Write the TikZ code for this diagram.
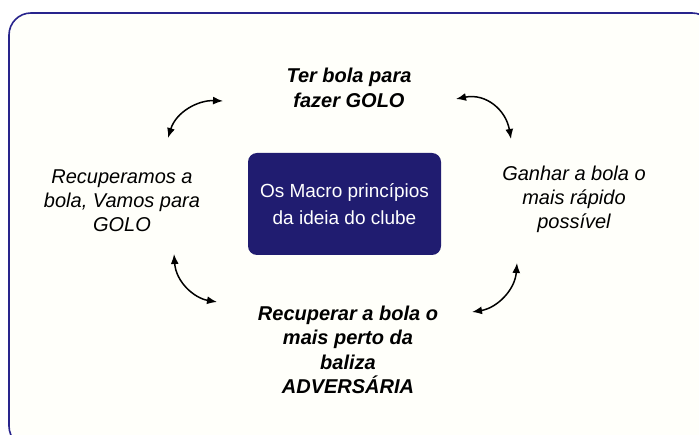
\documentclass[tikz,border=0pt]{standalone}
\usepackage{fontspec}
\setmainfont{Liberation Sans}
\usetikzlibrary{arrows.meta}
\definecolor{framecol}{RGB}{40,36,140}
\definecolor{boxcol}{RGB}{32,28,112}
\definecolor{papercol}{RGB}{255,255,250}
\tikzset{
  frame/.style={draw=framecol,line width=1.6pt,fill=papercol,rounded corners=22pt},
  macrobox/.style={fill=boxcol,rounded corners=9pt,minimum width=193pt,minimum height=102pt,
    align=center,text=white,font=\fontsize{19}{27}\selectfont},
  goalbold/.style={align=center,font=\fontsize{20}{24.5}\selectfont\bfseries\itshape},
  goalplain/.style={align=center,font=\fontsize{20}{24}\selectfont\itshape},
  cycle/.style={{Latex[length=10pt,width=8pt]}-{Latex[length=10pt,width=8pt]},line width=1.5pt}
}
\begin{document}
\begin{tikzpicture}[x=1pt,y=-1pt]
  \useasboundingbox (0,0) rectangle (699,435);
  \begin{scope}
    \clip (0,0) rectangle (699,435);
    \draw[frame] (9,13) rectangle (714,448);
  \end{scope}

  \node[macrobox] (macro) at (344.5,204) {Os Macro princípios\\da ideia do clube};

  \node[goalbold] (ter) at (349,88) {Ter bola para\\fazer GOLO};
  \node[goalplain] (ganhar) at (574,199) {Ganhar a bola o\\mais rápido\\possível};
  \node[goalbold] (recuperar) at (348,350) {Recuperar a bola o\\mais perto da\\baliza\\ADVERSÁRIA};
  \node[goalplain] (vamos) at (122,201) {Recuperamos a\\bola, Vamos para\\GOLO};

  % arrow ends
  \coordinate (tl1) at (168,138);
  \coordinate (tl2) at (223,101);
  \coordinate (tr1) at (456,99);
  \coordinate (tr2) at (511,139);
  \coordinate (bl1) at (174,254);
  \coordinate (bl2) at (217,302);
  \coordinate (br1) at (517,263);
  \coordinate (br2) at (472,312);

  \draw[cycle] (tl1) .. controls (176,112) and (198,100) .. (tl2);
  \draw[cycle] (tr1) .. controls (486,93) and (506,110) .. (tr2);
  \draw[cycle] (bl1) .. controls (176,282) and (194,298) .. (bl2);
  \draw[cycle] (br1) .. controls (515,290) and (497,308) .. (br2);
\end{tikzpicture}
\end{document}
